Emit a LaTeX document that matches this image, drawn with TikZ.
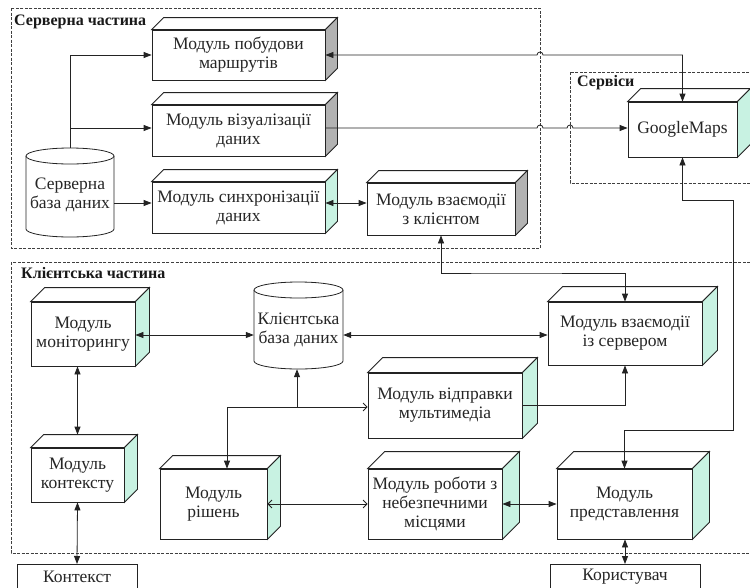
\documentclass[tikz,border=0pt]{standalone}
\usepackage{fontspec}
\setmainfont{Liberation Serif}
\usetikzlibrary{arrows.meta,calc}
\definecolor{mint}{RGB}{200,242,226}
\definecolor{sidegray}{RGB}{178,178,178}
\definecolor{ln}{RGB}{35,35,35}
\tikzset{
  lw/.style={line width=0.8pt, draw=ln},
  box/.style={lw, fill=white, inner sep=0pt, align=center, text=black!85,
    font=\fontsize{17.5}{19}\selectfont},
  plain/.style={inner sep=0pt, align=center, text=black!85, font=\fontsize{17.5}{19}\selectfont},
  ttl/.style={inner sep=0pt, anchor=west, text=black!90, font=\fontsize{16}{19}\selectfont\bfseries},
  frame/.style={draw=black!75, line width=0.8pt, dash pattern=on 3pt off 1.5pt},
  arr/.style={lw, -{Triangle[length=8pt,width=6pt]}},
  arrb/.style={lw, {Triangle[length=8pt,width=6pt]}-{Triangle[length=8pt,width=6pt]}},
  arro/.style={lw, -{Straight Barb[length=4pt,width=8pt]}},
  arrob/.style={lw, {Straight Barb[length=4pt,width=8pt]}-{Straight Barb[length=4pt,width=8pt]}},
}
\newcommand\cubefaces[3]{%
  \draw[lw, fill=white] (#1.north west) -- ++(#2,-#2) -- ([shift={(#2,-#2)}]#1.north east) -- (#1.north east) -- cycle;
  \draw[lw, fill=#3] (#1.north east) -- ([shift={(#2,-#2)}]#1.north east) -- ([shift={(#2,-#2)}]#1.south east) -- (#1.south east) -- cycle;}
\begin{document}
\begin{tikzpicture}[x=1pt, y=-1pt]
\useasboundingbox (0,0) rectangle (750,587);
\clip (0,0) rectangle (750,587);
\fill[white] (0,0) rectangle (750,587);

% frames
\draw[frame] (11,8) rectangle (540,248);
\draw[frame] (570,72) rectangle (760,183);
\draw[frame] (11,262) rectangle (760,553);
\node[ttl] (t1) at (14,22) {Серверна частина};
\node[ttl] (t2) at (577,83) {Сервіси};
\node[ttl] (t3) at (21,273) {Клієнтська частина};

% server DB cylinder
\node[plain, minimum width=88pt, minimum height=89pt] (sdb) at (70,192.5) {};
\draw[lw, fill=white] (26,156) -- (26,229) arc[start angle=180, end angle=0, x radius=44, y radius=8] -- (114,156);
\draw[lw, fill=white] (70,156) ellipse[x radius=44, y radius=8];
\node[plain] (sdbt) at (70,195) {Серверна\\база даних};

% client DB cylinder
\node[plain, minimum width=89pt, minimum height=87pt] (cdb) at (298.5,325.5) {};
\draw[lw, fill=white] (254,290) -- (254,361) arc[start angle=180, end angle=0, x radius=44.5, y radius=8] -- (343,290);
\draw[lw, fill=white] (298.5,290) ellipse[x radius=44.5, y radius=8];
\node[plain] (cdbt) at (298.5,330) {Клієнтська\\база даних};

% server boxes
\node[box, minimum width=173pt, minimum height=50pt] (route) at (238.5,55) {Модуль побудови\\маршрутів};
\cubefaces{route}{12}{sidegray}
\node[box, minimum width=173pt, minimum height=51pt] (vis) at (238.5,130.5) {Модуль візуалізації\\даних};
\cubefaces{vis}{12}{sidegray}
\node[box, minimum width=173pt, minimum height=51pt] (sync) at (238.5,207.5) {Модуль синхронізації\\даних};
\cubefaces{sync}{12}{mint}
\node[box, minimum width=148pt, minimum height=52pt] (cint) at (441,209) {Модуль взаємодії\\з клієнтом};
\cubefaces{cint}{12}{sidegray}
\node[box, minimum width=109pt, minimum height=55pt] (gmaps) at (682.5,129.5) {GoogleMaps};
\cubefaces{gmaps}{13}{mint}

% client boxes
\node[box, minimum width=104pt, minimum height=64pt] (mon) at (83,334) {Модуль\\моніторингу};
\cubefaces{mon}{14}{mint}
\node[box, minimum width=154pt, minimum height=63pt] (sint) at (625,333.5) {Модуль взаємодії\\із сервером};
\cubefaces{sint}{15}{mint}
\node[box, minimum width=154pt, minimum height=65pt] (mm) at (445,405.5) {Модуль відправки\\мультимедіа};
\cubefaces{mm}{15}{mint}
\node[box, minimum width=93pt, minimum height=54pt] (ctxm) at (77.5,475) {Модуль\\контексту};
\cubefaces{ctxm}{13}{mint}
\node[box, minimum width=107pt, minimum height=70pt] (dec) at (213.5,504) {Модуль\\рішень};
\cubefaces{dec}{13}{mint}
\node[box, minimum width=134pt, minimum height=70pt] (dang) at (435,504) {Модуль роботи з\\небезпечними\\місцями};
\cubefaces{dang}{17}{mint}
\node[box, minimum width=135pt, minimum height=70pt] (pres) at (624.5,504) {Модуль\\представлення};
\cubefaces{pres}{17}{mint}

% external boxes
\node[box, minimum width=120pt, minimum height=36pt, anchor=north] (ctx) at (77,564) {};
\node[plain] (ctxt) at (77,577) {Контекст};
\node[box, minimum width=150pt, minimum height=36pt, anchor=north] (user) at (625,564) {};
\node[plain] (usert) at (625,577) {Користувач};

% coordinates
\coordinate (sdbtop) at (70,148);
\coordinate (vjoin) at (70,128);
\coordinate (g1) at (733,200);
\coordinate (g2) at (733,430);
\coordinate (c3) at (500,273);
\coordinate (j1) at (227,407);
\coordinate (j2) at (297,407);

% server connectors
\draw[arr] (sdbtop) |- (route.west);
\draw[arr] (vjoin) -- (vis.west |- vjoin);
\draw[arr] (sdb.east |- 0,203) -- (sync.west |- 0,203);
\draw[arrb] (sync.east |- 0,203) -- (cint.west |- 0,203);
\draw[arrb] (route.east) -- (537,55) arc[start angle=180, end angle=360, radius=3] -- (682.5,55) -- (gmaps.north);
\draw[arr] (vis.east |- 0,128) -- (537,128) arc[start angle=180, end angle=360, radius=3] -- (567,128) arc[start angle=180, end angle=360, radius=3] -- (gmaps.west |- 0,128);
\draw[arrb] (gmaps.south) |- (g1) -- (g2) -| (pres.north);
\draw[arrb] (cint.south) |- (c3) -| (sint.north);

% client connectors
\draw[arrb] (mon.east |- 0,335) -- (cdb.west |- 0,335);
\draw[arrb] (cdb.east |- 0,335) -- (sint.west |- 0,335);
\draw[arr] (mm.east) -| (sint.south);
\draw[arro] (j1) -- (mm.west |- j1);
\draw[arr] (j1) -- (j1 |- dec.north);
\draw[arr] (j2) -- (cdb.south -| j2);
\draw[arrob] (dec.east) -- (dang.west);
\draw[arrb] (dang.east) -- (pres.west);
\draw[arrb] (mon.south -| ctxm.north) -- ([yshift=13pt]ctxm.north);
\draw[arrb] (ctxm.south) -- (ctx.north);
\draw[arrb] (pres.south -| user.north) -- (user.north);
\end{tikzpicture}
\end{document}
